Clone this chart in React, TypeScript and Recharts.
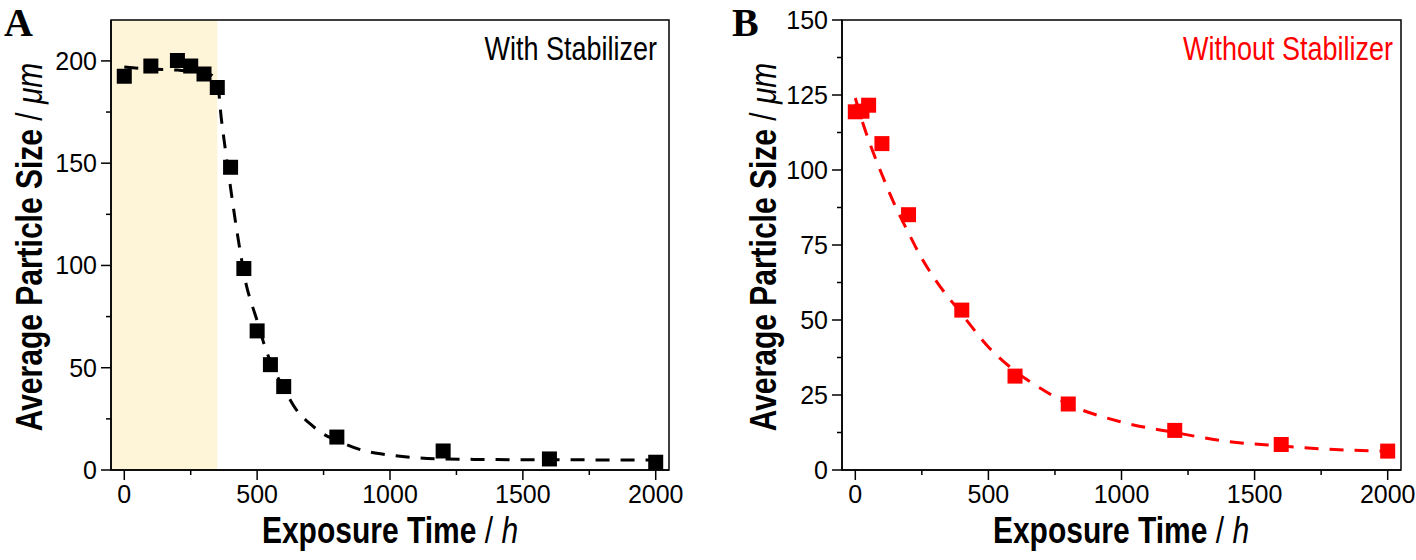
import React from 'react';
import { ComposedChart, Line, Scatter, XAxis, YAxis, ReferenceArea } from 'recharts';

// measured points, panel A (with stabilizer)
const pointsA = [
  { x: 0, y: 192.5 }, { x: 100, y: 197.5 }, { x: 200, y: 200.2 }, { x: 250, y: 197.5 },
  { x: 300, y: 193.6 }, { x: 350, y: 187 }, { x: 400, y: 148 }, { x: 450, y: 98.5 },
  { x: 500, y: 68 }, { x: 550, y: 51.5 }, { x: 600, y: 40.8 }, { x: 800, y: 16.1 },
  { x: 1200, y: 9.3 }, { x: 1600, y: 5.4 }, { x: 2000, y: 3.8 },
];

// fitted curve
const fitA = [
  { x: 0, y: 197 }, { x: 100, y: 196 }, { x: 200, y: 195.5 }, { x: 300, y: 194 },
  { x: 330, y: 193 }, { x: 350, y: 190 }, { x: 365, y: 172 }, { x: 380, y: 157 },
  { x: 400, y: 138 }, { x: 420, y: 120 }, { x: 440, y: 104 }, { x: 460, y: 90 },
  { x: 480, y: 81 }, { x: 500, y: 73 }, { x: 525, y: 62 }, { x: 550, y: 53 },
  { x: 575, y: 46 }, { x: 600, y: 40 }, { x: 650, y: 29 }, { x: 700, y: 22.5 },
  { x: 750, y: 17.5 }, { x: 800, y: 14.5 }, { x: 900, y: 9.5 }, { x: 1000, y: 7.3 },
  { x: 1100, y: 6 }, { x: 1200, y: 5.4 }, { x: 1400, y: 5.1 }, { x: 1600, y: 5 },
  { x: 2000, y: 4.9 },
];

// measured points, panel B (without stabilizer)
const pointsB = [
  { x: 0, y: 119.4 }, { x: 25, y: 119.6 }, { x: 50, y: 121.6 }, { x: 100, y: 108.8 },
  { x: 200, y: 85.1 }, { x: 400, y: 53.3 }, { x: 600, y: 31.3 }, { x: 800, y: 22 },
  { x: 1200, y: 13.2 }, { x: 1600, y: 8.5 }, { x: 2000, y: 6.3 },
];

const fitB = [
  { x: 0, y: 124 }, { x: 25, y: 116.5 }, { x: 50, y: 110 }, { x: 100, y: 98.5 },
  { x: 150, y: 88 }, { x: 200, y: 79 }, { x: 250, y: 70.5 }, { x: 300, y: 63.5 },
  { x: 400, y: 52 }, { x: 500, y: 41 }, { x: 600, y: 33 }, { x: 700, y: 27 },
  { x: 800, y: 22 }, { x: 1000, y: 16 }, { x: 1200, y: 12.5 }, { x: 1400, y: 9.5 },
  { x: 1600, y: 8 }, { x: 1800, y: 6.8 }, { x: 2000, y: 6.3 },
];

const xTicks = [0, 250, 500, 750, 1000, 1250, 1500, 1750, 2000];
const xMajor = [0, 500, 1000, 1500, 2000];
const yTicksA = [0, 25, 50, 75, 100, 125, 150, 175, 200];
const yMajorA = [0, 50, 100, 150, 200];
const yTicksB = [0, 12.5, 25, 37.5, 50, 62.5, 75, 87.5, 100, 112.5, 125, 137.5, 150];
const yMajorB = [0, 25, 50, 75, 100, 125, 150];

const SANS = '"Liberation Sans", Arial, sans-serif';
const SERIF = '"Liberation Serif", "Times New Roman", serif';
const TS = 9;
const TM = 5;

const makeYTick = (majors: number[]) => (props: any) => {
  const { x, y, payload } = props;
  const ax = x + TS + TM;
  const major = majors.includes(payload.value);
  return (
    <g>
      <line x1={ax} x2={ax - (major ? 10 : 5)} y1={y} y2={y} stroke="#000" strokeWidth={1.5} />
      {major && (
        <text x={ax - 14} y={y} dy={9} textAnchor="end" fontFamily={SANS} fontSize={25} fill="#000">
          {payload.value}
        </text>
      )}
    </g>
  );
};

const makeXTick = (majors: number[]) => (props: any) => {
  const { x, y, payload } = props;
  const ay = y - TS - TM;
  const major = majors.includes(payload.value);
  return (
    <g>
      <line x1={x} x2={x} y1={ay} y2={ay + (major ? 10 : 5)} stroke="#000" strokeWidth={1.5} />
      {major && (
        <text x={x} y={ay + 33} textAnchor="middle" fontFamily={SANS} fontSize={25} fill="#000">
          {payload.value}
        </text>
      )}
    </g>
  );
};

const square = (color: string) => (props: any) => (
  <rect x={props.cx - 7.5} y={props.cy - 7.5} width={15} height={15} fill={color} />
);

const XTitle = ({ cx }: { cx: number }) => (
  <text transform={`translate(${cx},543) scale(1,1.2)`} textAnchor="middle" fontFamily={SANS} fontSize={30} fill="#000">
    <tspan fontWeight="bold">Exposure Time</tspan><tspan> / </tspan><tspan fontStyle="italic">h</tspan>
  </text>
);

const YTitle = ({ bx }: { bx: number }) => (
  <text transform={`translate(${bx},247) rotate(-90) scale(1,1.2)`} textAnchor="middle" fontFamily={SANS} fontSize={30} fill="#000">
    <tspan fontWeight="bold">Average Particle Size</tspan><tspan> / </tspan><tspan fontStyle="italic">μm</tspan>
  </text>
);

export default function App() {
  return (
    <div style={{ position: 'absolute', left: 0, top: 0, width: 1416, height: 560, background: '#fff' }}>
      <div style={{ position: 'absolute', left: 0, top: 0 }}>
        <ComposedChart width={700} height={560} margin={{ top: 20, right: 31, bottom: 40, left: 0 }}>
          <XAxis type="number" dataKey="x" domain={[-50, 2050]} ticks={xTicks} height={50}
            tickSize={TS} tickMargin={TM} tickLine={false} tick={makeXTick(xMajor)}
            axisLine={{ stroke: '#000', strokeWidth: 1.5 }} allowDataOverflow />
          <YAxis type="number" dataKey="y" domain={[0, 220]} ticks={yTicksA} width={111}
            tickSize={TS} tickMargin={TM} tickLine={false} tick={makeYTick(yMajorA)}
            axisLine={{ stroke: '#000', strokeWidth: 1.5 }} allowDataOverflow />
          <ReferenceArea x1={-50} x2={350} y1={0} y2={220} fill="#FEF4D8" fillOpacity={1} stroke="none" />
          <ReferenceArea x1={-50} x2={2050} y1={0} y2={220} fill="none" stroke="#000" strokeWidth={1.5} />
          <Line data={fitA} dataKey="y" type="monotone" stroke="#000" strokeWidth={3}
            strokeDasharray="14 11" dot={false} isAnimationActive={false} />
          <Scatter data={pointsA} dataKey="y" shape={square('#000')} isAnimationActive={false} />
        </ComposedChart>
      </div>
      <div style={{ position: 'absolute', left: 720, top: 0 }}>
        <ComposedChart width={696} height={560} margin={{ top: 20, right: 15, bottom: 40, left: 0 }}>
          <XAxis type="number" dataKey="x" domain={[-50, 2050]} ticks={xTicks} height={50}
            tickSize={TS} tickMargin={TM} tickLine={false} tick={makeXTick(xMajor)}
            axisLine={{ stroke: '#000', strokeWidth: 1.5 }} allowDataOverflow />
          <YAxis type="number" dataKey="y" domain={[0, 150]} ticks={yTicksB} width={122}
            tickSize={TS} tickMargin={TM} tickLine={false} tick={makeYTick(yMajorB)}
            axisLine={{ stroke: '#000', strokeWidth: 1.5 }} allowDataOverflow />
          <ReferenceArea x1={-50} x2={2050} y1={0} y2={150} fill="none" stroke="#000" strokeWidth={1.5} />
          <Line data={fitB} dataKey="y" type="monotone" stroke="#FF0000" strokeWidth={3}
            strokeDasharray="14 11" dot={false} isAnimationActive={false} />
          <Scatter data={pointsB} dataKey="y" shape={square('#FF0000')} isAnimationActive={false} />
        </ComposedChart>
      </div>
      <svg width={1416} height={560} style={{ position: 'absolute', left: 0, top: 0, pointerEvents: 'none' }}>
        <text x={4} y={36} fontFamily={SERIF} fontWeight="bold" fontSize={40}>A</text>
        <text x={732} y={36} fontFamily={SERIF} fontWeight="bold" fontSize={40}>B</text>
        <text transform="translate(657,60) scale(1,1.25)" textAnchor="end" fontFamily={SANS} fontSize={27} fill="#000">With Stabilizer</text>
        <text transform="translate(1393,60) scale(1,1.25)" textAnchor="end" fontFamily={SANS} fontSize={27} fill="#FF0000">Without Stabilizer</text>
        <XTitle cx={390} />
        <XTitle cx={1121} />
        <YTitle bx={42} />
        <YTitle bx={776} />
      </svg>
    </div>
  );
}
